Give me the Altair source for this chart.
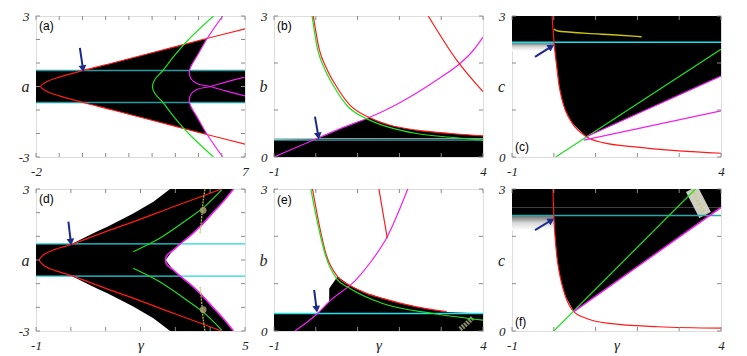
import altair as alt
import pandas as pd

W = 209
H1, H2 = 141, 142

RED = "#ff1a1a"
GREEN = "#1ee01e"
MAG = "#f020f0"
NAVY = "#1b2a86"
SERIF = "Liberation Serif"
SANS = "Liberation Sans"

# ---------------- panel (a): gamma -2..7, a -3..3 ----------------
A_RED = [(-1.8, 0.0), (-1.55, 0.2), (-1.0, 0.4), (0.02, 0.68), (1.3, 1.0), (3.24, 1.5), (5.18, 2.0), (7.0, 2.45)]
A_GREEN = [(3.01, 0.0), (3.12, 0.3), (3.45, 0.66), (3.95, 1.3), (4.55, 1.98), (5.64, 3.0)]
A_MAG = [(6.04, 3.0), (5.35, 2.01), (4.92, 1.27), (4.66, 0.84), (4.60, 0.62), (4.68, 0.32),
         (4.95, 0.12), (5.5, 0.0), (6.2, -0.2), (7.0, -0.4)]
A_BAND = 0.68
A_WEDGE_A = [0.68, 1.0, 1.27, 1.5, 1.75, 2.01]
A_WEDGE_L = [0.02, 1.3, 2.35, 3.24, 4.2, 5.25]
A_WEDGE_R = [4.60, 4.76, 4.92, 5.05, 5.2, 5.35]
A_ARROW = [(-0.11, 1.64), (0.02, 0.76)]

# ---------------- panel (b): gamma -1..4, b 0..3 ----------------
B_BLACK_X = [-1, 0.0, 0.3, 0.6, 0.9, 1.28, 1.5, 1.76, 2.0, 2.41, 3.21, 4.0]
B_BLACK_T = [0.36, 0.38, 0.49, 0.61, 0.72, 0.84, 0.76, 0.68, 0.63, 0.57, 0.50, 0.45]
B_RED = [(-0.06, 3.0), (0.08, 2.3), (0.25, 1.9), (0.48, 1.52), (0.80, 1.12), (1.28, 0.84),
         (1.76, 0.68), (2.41, 0.57), (3.21, 0.50), (4.0, 0.45)]
B_GREEN = [(-0.09, 3.0), (0.04, 2.3), (0.2, 1.9), (0.42, 1.52), (0.75, 1.09), (1.25, 0.80),
           (1.76, 0.63), (2.41, 0.50), (3.21, 0.42), (4.0, 0.36)]
B_MAG = [(-1, 0.0), (-0.5, 0.19), (0.04, 0.40), (0.6, 0.61), (1.28, 0.84), (1.9, 1.1),
         (2.41, 1.36), (3.0, 1.7), (3.45, 1.99), (3.75, 2.25), (4.0, 2.55)]
B_RED2 = [(2.69, 3.0), (3.37, 2.06), (4.0, 1.39)]
B_CYAN = 0.36
B_ARROW = [(-0.02, 0.86), (0.06, 0.45)]

# ---------------- panel (c): gamma -1..4, c 0..3 ----------------
C_TOP = 2.44
C_BLACK_C = [0.43, 0.72, 1.0, 1.21, 1.5, 1.72, 2.0, 2.44]
C_BLACK_L = [0.78, 0.44, 0.274, 0.20, 0.13, 0.10, 0.06, 0.005]
C_BLACK_R = [0.78, 1.50, 2.20, 2.73, 3.45, 4.0, 4.0, 4.0]
C_RED = [(-0.04, 3.0), (0.005, 2.44), (0.06, 2.0), (0.13, 1.5), (0.20, 1.21), (0.274, 1.0),
         (0.44, 0.72), (0.78, 0.43), (1.2, 0.3), (1.88, 0.22), (3.0, 0.13), (4.0, 0.08)]
C_GREEN = [(0.045, 0.0), (4.0, 2.29)]
C_MAG1 = [(0.78, 0.43), (4.0, 1.72)]
C_MAG2 = [(0.72, 0.36), (4.0, 0.98)]
C_YELLOW = [(0.0, 2.72), (0.1, 2.68), (0.35, 2.66), (0.8, 2.63), (1.4, 2.6), (2.1, 2.56)]
C_ARROW = [(-0.45, 2.13), (-0.06, 2.35)]

# ---------------- panel (d): gamma -1..5, a -3..3 ----------------
D_BLACK_A = [0.0, 0.42, 0.68, 0.69, 0.99, 1.27, 1.41, 1.97, 2.46, 3.0]
D_BLACK_L = [-1, -1, -1, 0.04, 0.455, 0.84, 1.05, 1.79, 2.37, 2.85]
D_BLACK_R = [2.72, 2.94, 3.14, 3.15, 3.4, 3.6, 3.71, 4.06, 4.37, 4.67]
D_RED = [(-0.9, 0.0), (-0.75, 0.25), (-0.45, 0.45), (0.02, 0.66), (1.0, 1.2), (1.79, 1.61),
         (3.0, 2.28), (4.33, 3.0)]
D_GREEN = [(1.79, 0.35), (2.55, 0.92), (3.32, 1.69), (3.89, 2.32), (4.33, 2.96)]
D_MAG = [(2.72, 0.0), (2.76, 0.2), (2.94, 0.42), (3.14, 0.68), (3.4, 0.99), (3.71, 1.41),
         (4.06, 1.97), (4.37, 2.46), (4.67, 3.0)]
D_YELLOW = [(3.71, 1.13), (3.77, 2.0), (3.8, 2.5), (3.85, 3.0)]
D_BLOB = (3.8, 2.1)
D_CYAN = 0.68
D_ARROW = [(-0.07, 1.62), (0.0, 0.76)]

# ---------------- panel (e): gamma -1..4, b 0..3 ----------------
E_BLACK_X = [-1, 0.04, 0.18, 0.32, 0.321, 0.52, 0.8, 1.2, 1.6, 2.0, 2.41, 2.8, 3.13, 4.0]
E_BLACK_T = [0.36, 0.37, 0.50, 0.62, 0.90, 1.15, 0.97, 0.80, 0.69, 0.59, 0.51, 0.45, 0.40, 0.37]
E_RED = [(-0.08, 3.0), (0.08, 2.25), (0.24, 1.64), (0.52, 1.15), (0.8, 0.97), (1.2, 0.80),
         (1.6, 0.69), (2.41, 0.51), (3.13, 0.41)]
E_GREEN = [(-0.12, 3.0), (0.05, 2.25), (0.24, 1.57), (0.5, 1.1), (0.8, 0.91), (1.6, 0.58),
           (2.81, 0.37), (4.0, 0.23)]
E_MAG = [(-0.5, 0.0), (0.04, 0.37), (0.32, 0.62), (0.96, 1.08), (1.35, 1.5), (1.69, 1.96), (2.2, 3.0)]
E_RED2 = [(1.51, 3.0), (1.71, 1.96)]
E_YELLOW = [(3.45, 0.04), (3.6, 0.15), (3.75, 0.28)]
E_CYAN = 0.37
E_ARROW = [(-0.04, 0.87), (0.02, 0.46)]

# ---------------- panel (f): gamma -1..4, c 0..3 ----------------
F_TOP = 2.61
F_CYAN = 2.44
F_BLACK_C = [0.41, 0.73, 1.0, 1.29, 1.6, 2.0, 2.44, 2.61]
F_BLACK_L = [0.48, 0.28, 0.19, 0.12, 0.07, 0.03, 0.0, -0.01]
F_BLACK_R = [0.48, 0.99, 1.42, 1.89, 2.38, 3.02, 3.73, 4.0]
F_RED = [(-0.02, 3.0), (0.0, 2.44), (0.03, 2.0), (0.07, 1.6), (0.12, 1.29), (0.19, 1.0),
         (0.28, 0.73), (0.48, 0.41), (0.8, 0.26), (1.32, 0.16), (2.5, 0.09), (4.0, 0.06)]
F_GREEN = [(0.0, 0.0), (3.39, 3.0)]
F_MAG = [(0.48, 0.41), (4.0, 2.61)]
F_SPECKLE = [(3.3, 3.0), (3.62, 2.45)]
F_ARROW = [(-0.45, 2.13), (-0.06, 2.34)]


def pts_df(pts):
    return pd.DataFrame({"x": [p[0] for p in pts], "y": [p[1] for p in pts], "o": list(range(len(pts)))})


def mirror(pts):
    """curve from a=0 upward -> full symmetric curve (a -> -a)."""
    low = [(x, -a) for x, a in reversed(pts) if a != 0]
    return low + list(pts)


def neg(pts):
    return [(x, -a) for x, a in pts]


class Panel:
    def __init__(self, xdom, ydom, height, ytitle, xtitle, label, label_y):
        self.xdom, self.ydom, self.h = xdom, ydom, height
        self.layers = []
        ex = "datum.value < 0 ? '-' + abs(datum.value) : '' + datum.value"
        xaxis_kw = dict(values=list(xdom), ticks=False, domain=False, grid=False, labelExpr=ex,
                        labelFont=SERIF, labelFontStyle="italic", labelFontSize=13, labelColor="#222",
                        labelPadding=8, labelFlush=False, labelOverlap=False)
        if xtitle:
            xaxis_kw.update(title=xtitle, titleFont=SERIF, titleFontStyle="italic", titleFontSize=15,
                            titleFontWeight="normal", titleY=6, titleBaseline="top", titleColor="#222")
        else:
            xaxis_kw.update(title=None)
        self.xaxis = alt.Axis(**xaxis_kw)
        self.yaxis = alt.Axis(values=list(ydom), ticks=False, domain=False, grid=False, labelExpr=ex,
                              labelFont=SERIF, labelFontStyle="italic", labelFontSize=13, labelColor="#222",
                              labelPadding=7, labelFlush=False, labelOverlap=False,
                              title=ytitle, titleFont=SERIF, titleFontStyle="italic", titleFontSize=16,
                              titleFontWeight="normal", titleAngle=0, titleX=-11, titleY=height / 2,
                              titleAlign="center", titleBaseline="middle", titleColor="#222")
        self.xs = alt.Scale(domain=list(xdom), nice=False, zero=False)
        self.ys = alt.Scale(domain=list(ydom), nice=False, zero=False)
        self.label = label
        self.label_y = label_y

    def X(self, f):
        return alt.X(f, type="quantitative", scale=self.xs, axis=self.xaxis)

    def Y(self, f):
        return alt.Y(f, type="quantitative", scale=self.ys, axis=self.yaxis)

    def rect(self, x, x2, y, y2, color="black"):
        df = pd.DataFrame({"x": [x], "x2": [x2], "y": [y], "y2": [y2]})
        self.layers.append(alt.Chart(df).mark_rect(color=color).encode(
            x=self.X("x"), x2=alt.X2("x2"), y=self.Y("y"), y2=alt.Y2("y2")))

    def grad_rect(self, x, x2, y, y2):
        df = pd.DataFrame({"x": [x], "x2": [x2], "y": [y], "y2": [y2]})
        g = alt.Gradient(gradient="linear", x1=0, x2=0, y1=0, y2=1,
                         stops=[alt.GradientStop(color="#6a6a6a", offset=0),
                                alt.GradientStop(color="#d8d8d8", offset=0.5),
                                alt.GradientStop(color="#ffffff", offset=1)])
        self.layers.append(alt.Chart(df).mark_rect(color=g).encode(
            x=self.X("x"), x2=alt.X2("x2"), y=self.Y("y"), y2=alt.Y2("y2")))

    def harea(self, ys, ls, rs):
        df = pd.DataFrame({"y": ys, "l": ls, "r": rs})
        self.layers.append(alt.Chart(df).mark_area(color="black", orient="horizontal").encode(
            y=self.Y("y"), x=self.X("l"), x2=alt.X2("r")))

    def varea(self, xs, tops):
        df = pd.DataFrame({"x": xs, "t": tops, "b": [self.ydom[0]] * len(xs)})
        self.layers.append(alt.Chart(df).mark_area(color="black", orient="vertical").encode(
            x=self.X("x"), y=self.Y("t"), y2=alt.Y2("b")))

    def hline(self, yv, color, width=1.3):
        df = pd.DataFrame({"x": [self.xdom[0]], "x2": [self.xdom[1]], "y": [yv]})
        self.layers.append(alt.Chart(df).mark_rule(color=color, strokeWidth=width).encode(
            x=self.X("x"), x2=alt.X2("x2"), y=self.Y("y")))

    def curve(self, pts, color, width=1.2, interp="monotone", opacity=1.0, dash=None):
        if len(pts) <= 2:
            interp = "linear"
        kw = dict(color=color, strokeWidth=width, interpolate=interp, opacity=opacity, clip=True)
        if dash:
            kw["strokeDash"] = dash
        self.layers.append(alt.Chart(pts_df(pts)).mark_line(**kw).encode(
            x=self.X("x"), y=self.Y("y"), order="o:Q"))

    def blob(self, pts, color, size):
        self.layers.append(alt.Chart(pts_df(pts)).mark_point(
            shape="circle", filled=True, color=color, size=size, opacity=0.85).encode(
            x=self.X("x"), y=self.Y("y")))

    def arrow(self, pts, angle):
        self.layers.append(alt.Chart(pts_df(pts)).mark_line(color=NAVY, strokeWidth=2).encode(
            x=self.X("x"), y=self.Y("y"), order="o:Q"))
        self.layers.append(alt.Chart(pts_df(pts[1:])).mark_point(
            shape="triangle-up", filled=True, color=NAVY, size=60, angle=angle, opacity=1).encode(
            x=self.X("x"), y=self.Y("y")))

    def build(self):
        xs0, xs1 = self.xdom
        ys0, ys1 = self.ydom
        xt = pd.DataFrame({"t": list(range(int(xs0), int(xs1) + 1))})
        yt = pd.DataFrame({"t": list(range(int(ys0), int(ys1) + 1))})
        tc = "#8a8a8a"
        ticks = [
            alt.Chart(xt).mark_rule(color=tc).encode(x=self.X("t"), y=alt.value(self.h - 4), y2=alt.value(self.h)),
            alt.Chart(xt).mark_rule(color=tc).encode(x=self.X("t"), y=alt.value(0), y2=alt.value(4)),
            alt.Chart(yt).mark_rule(color=tc).encode(y=self.Y("t"), x=alt.value(0), x2=alt.value(4)),
            alt.Chart(yt).mark_rule(color=tc).encode(y=self.Y("t"), x=alt.value(W - 4), x2=alt.value(W)),
        ]
        lab = alt.Chart(pd.DataFrame({"t": [self.label]})).mark_text(
            font=SANS, fontSize=12, align="left", baseline="middle", color="black").encode(
            text="t:N", x=alt.value(3), y=alt.value(self.label_y))
        return alt.layer(*self.layers, *ticks, lab).properties(width=W, height=self.h)


CR = "catmull-rom"

# ---- (a)
pa = Panel((-2, 7), (-3, 3), H1, "a", None, "(a)", 10)
pa.rect(-2, 7, -A_BAND, A_BAND)
pa.harea(A_WEDGE_A, A_WEDGE_L, A_WEDGE_R)
pa.harea([-v for v in reversed(A_WEDGE_A)], list(reversed(A_WEDGE_L)), list(reversed(A_WEDGE_R)))
pa.hline(A_BAND, "#2a9aa2")
pa.hline(-A_BAND, "#2a9aa2")
pa.curve(mirror(A_RED), RED, interp=CR)
pa.curve(mirror(A_GREEN), GREEN, interp=CR)
pa.curve(A_MAG, MAG, interp=CR)
pa.curve(neg(A_MAG), MAG, interp=CR)
pa.arrow(A_ARROW, 171)

# ---- (b)
pb = Panel((-1, 4), (0, 3), H1, "b", None, "(b)", 10)
pb.varea(B_BLACK_X, B_BLACK_T)
pb.hline(B_CYAN + 0.03, "#a8b8b8", 1)
pb.hline(B_CYAN, "#2aa0a8")
pb.curve(B_MAG, MAG)
pb.curve(B_RED, RED)
pb.curve(B_GREEN, GREEN)
pb.curve(B_RED2, RED)
pb.arrow(B_ARROW, 171)

# ---- (c)
pc = Panel((-1, 4), (0, 3), H1, "c", None, "(c)", 131)
pc.rect(-1, 4, C_TOP, 3)
pc.harea(C_BLACK_C, C_BLACK_L, C_BLACK_R)
pc.grad_rect(-1, 0.0, 2.25, C_TOP)
pc.curve(C_YELLOW, "#e6dc14", 1.4, opacity=0.9)
pc.hline(C_TOP, "#12e4f2", 1.6)
pc.curve(C_RED, RED)
pc.curve(C_GREEN, GREEN)
pc.curve(C_MAG1, MAG)
pc.curve(C_MAG2, MAG)
pc.arrow(C_ARROW, 58)

# ---- (d)
pd_ = Panel((-1, 5), (-3, 3), H2, "a", "\u03b3", "(d)", 10)
d_rows_a = [-v for v in reversed(D_BLACK_A[1:])] + D_BLACK_A
d_rows_l = list(reversed(D_BLACK_L[1:])) + D_BLACK_L
d_rows_r = list(reversed(D_BLACK_R[1:])) + D_BLACK_R
pd_.harea(d_rows_a, d_rows_l, d_rows_r)
pd_.hline(D_CYAN, "#22d8e2")
pd_.hline(-D_CYAN, "#22d8e2")
pd_.curve(mirror(D_MAG), MAG, 1.6, interp=CR)
pd_.curve(mirror(D_RED), RED, interp=CR)
pd_.curve(D_GREEN, GREEN)
pd_.curve(neg(D_GREEN), GREEN)
pd_.curve(D_YELLOW, "#c8c048", 1.2, interp=CR, dash=[2, 1])
pd_.curve(neg(D_YELLOW), "#c8c048", 1.2, interp=CR, dash=[2, 1])
pd_.blob([D_BLOB, (D_BLOB[0], -D_BLOB[1])], "#a8a070", 45)
pd_.arrow(D_ARROW, 173)

# ---- (e)
pe = Panel((-1, 4), (0, 3), H2, "b", "\u03b3", "(e)", 11)
pe.varea(E_BLACK_X, E_BLACK_T)
pe.curve(E_YELLOW, "#b8b890", 5, opacity=0.75, dash=[2, 1])
pe.hline(E_CYAN, "#22e0f0")
pe.curve(E_MAG, MAG)
pe.curve(E_RED, RED)
pe.curve(E_GREEN, GREEN)
pe.curve(E_RED2, RED)
pe.arrow(E_ARROW, 173)

# ---- (f)
pf = Panel((-1, 4), (0, 3), H2, "c", "\u03b3", "(f)", 133)
pf.rect(-1, 4, F_TOP, 3)
pf.rect(-1, 0.0, F_CYAN, F_TOP)
pf.harea(F_BLACK_C, F_BLACK_L, F_BLACK_R)
pf.grad_rect(-1, 0.0, 2.13, F_CYAN)
pf.curve(F_SPECKLE, "#e4e4d8", 13, opacity=0.9)
pf.curve(F_SPECKLE, "#d8cc40", 2, opacity=0.8, dash=[2, 2])
pf.hline(F_CYAN, "#2aa8b0")
pf.curve(F_RED, RED)
pf.curve(F_GREEN, GREEN)
pf.curve(F_MAG, MAG, 1.5)
pf.arrow(F_ARROW, 58)

chart = alt.ConcatChart(
    concat=[pa.build(), pb.build(), pc.build(), pd_.build(), pe.build(), pf.build()],
    columns=3,
    spacing={"row": 32, "column": 29},
    bounds="flush",
    padding={"left": 9, "top": 1, "right": 2, "bottom": 2},
).configure_view(stroke="#8a8a8a", strokeWidth=1).configure(background="white")

chart.save("out.html", embed_options={"renderer": "svg", "actions": False})
